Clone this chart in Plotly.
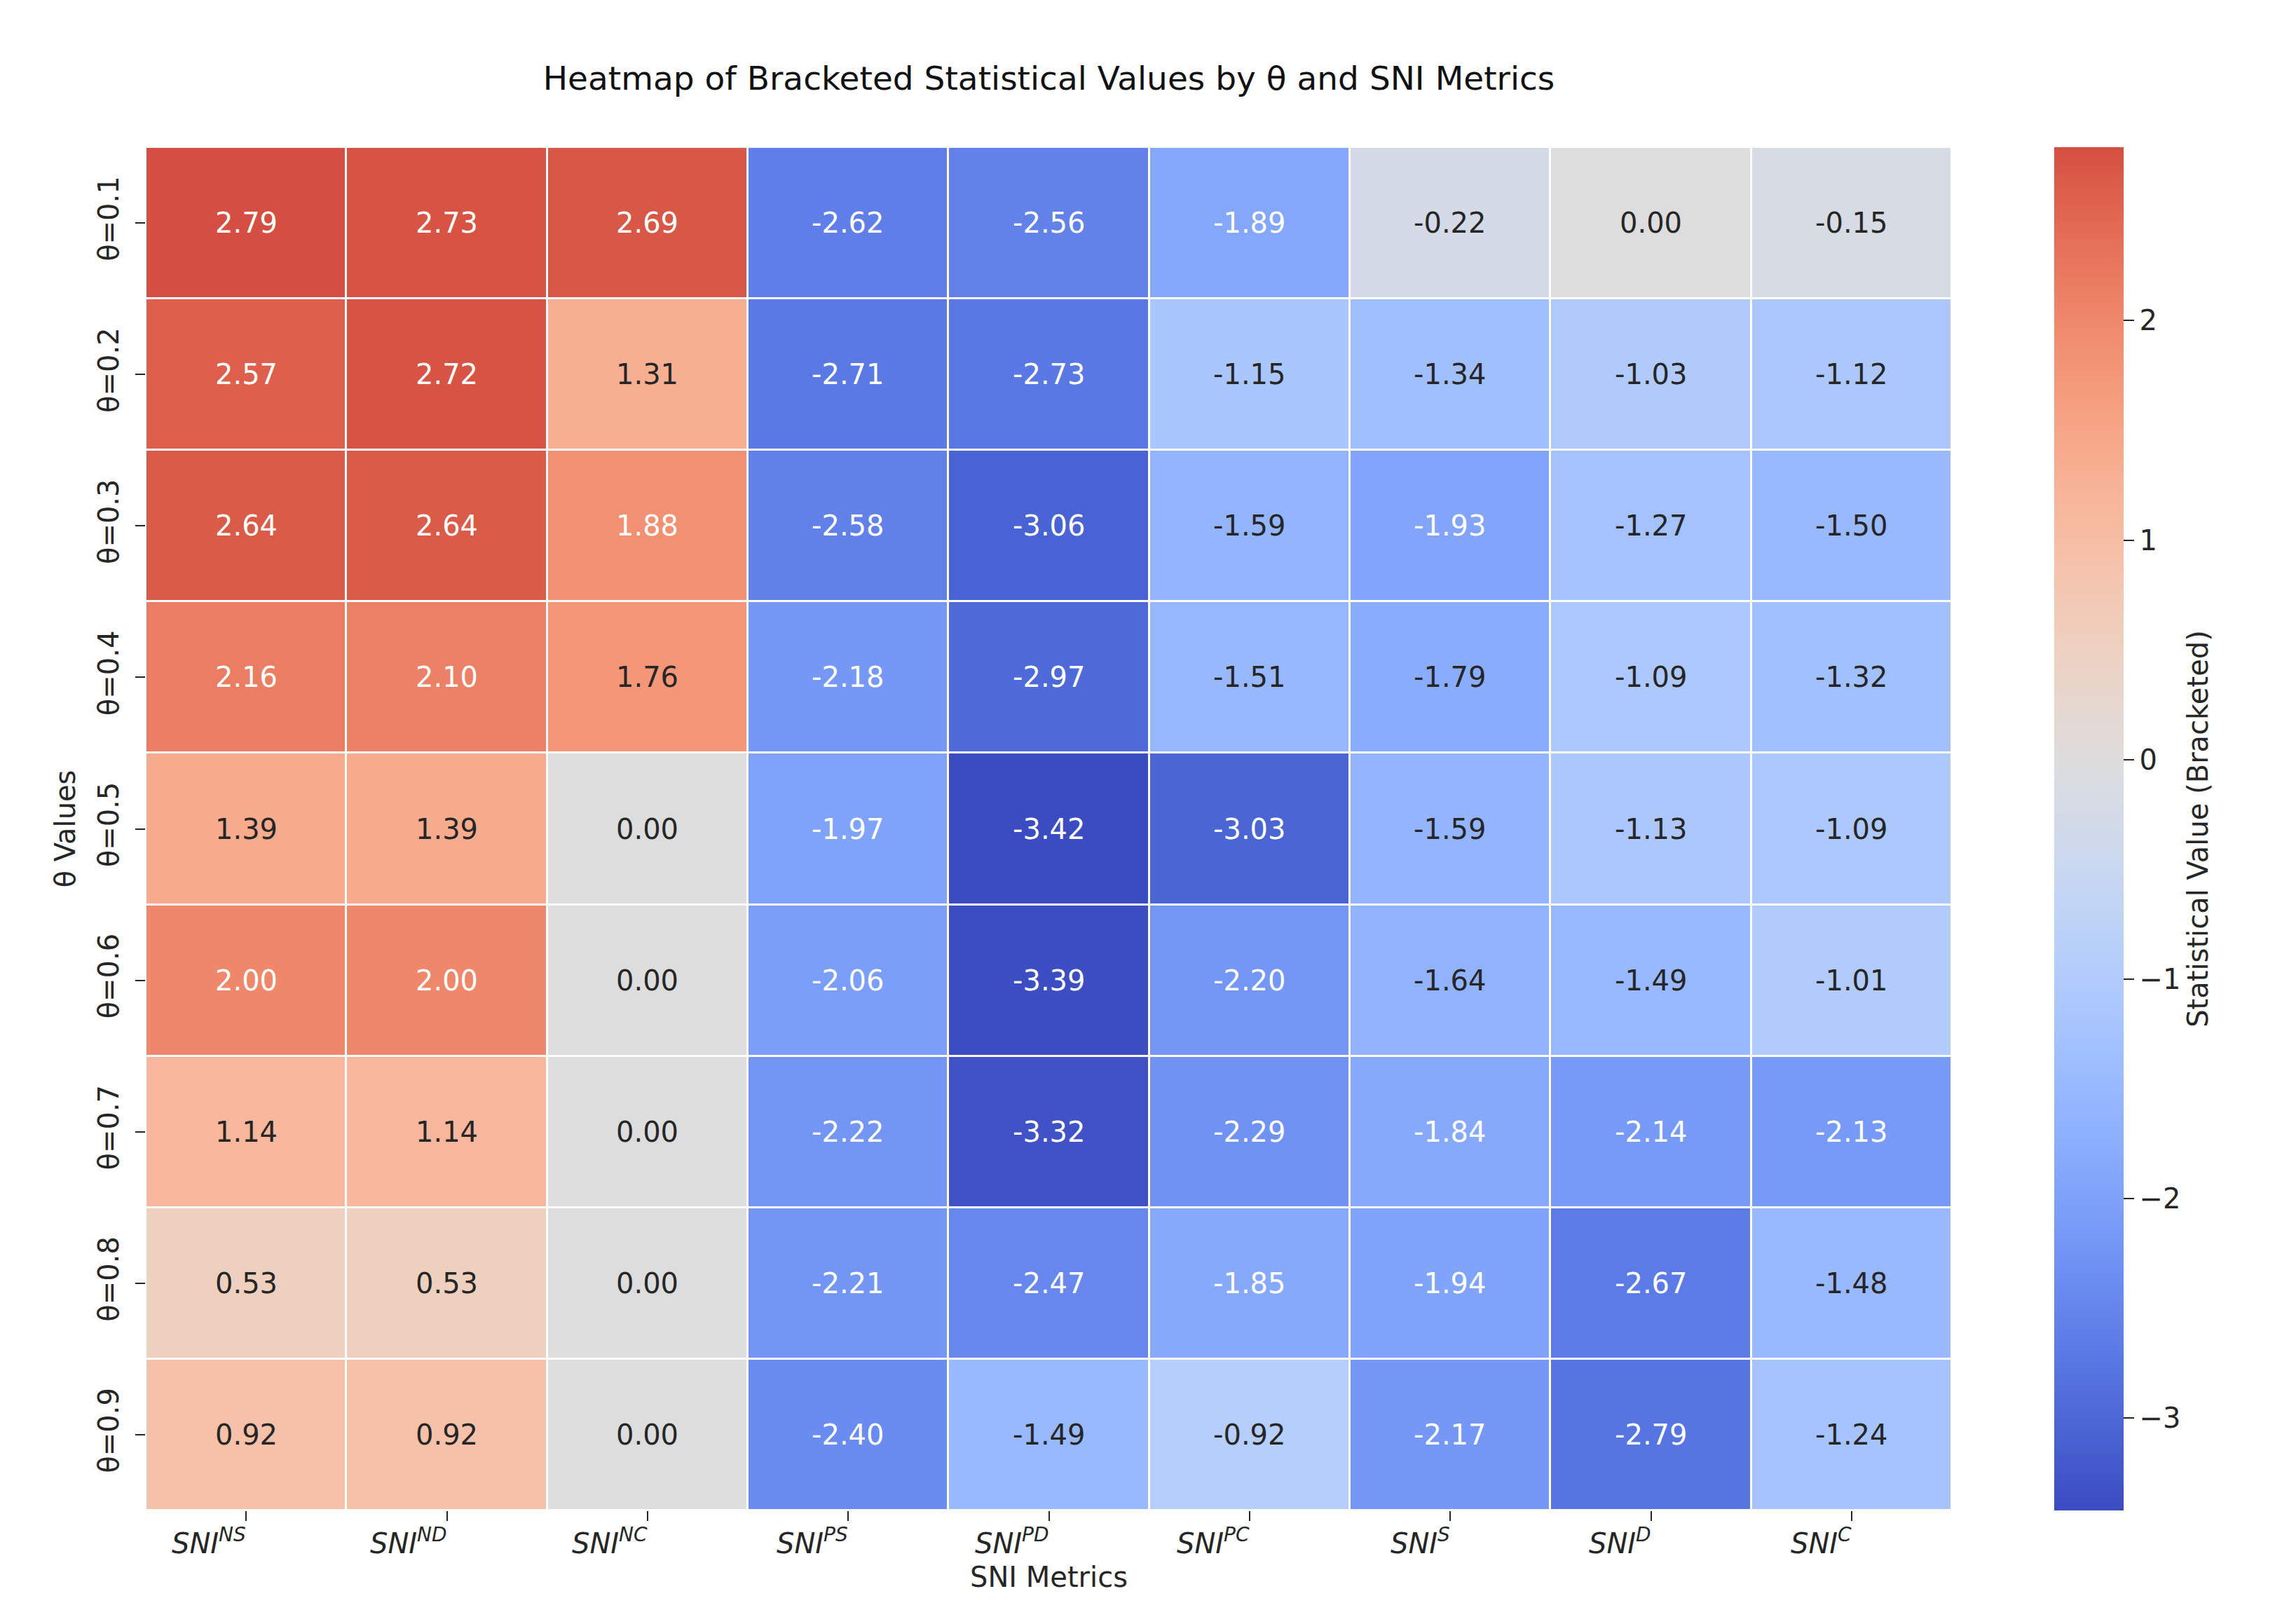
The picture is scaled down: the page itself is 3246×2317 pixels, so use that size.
import plotly.graph_objects as go
import numpy as np

# ---------------- data ----------------
theta_labels = ["θ=0.1", "θ=0.2", "θ=0.3", "θ=0.4", "θ=0.5", "θ=0.6", "θ=0.7", "θ=0.8", "θ=0.9"]
metric_labels = [
    "<i>SNI<sup>NS</sup></i>", "<i>SNI<sup>ND</sup></i>", "<i>SNI<sup>NC</sup></i>",
    "<i>SNI<sup>PS</sup></i>", "<i>SNI<sup>PD</sup></i>", "<i>SNI<sup>PC</sup></i>",
    "<i>SNI<sup>S</sup></i>", "<i>SNI<sup>D</sup></i>", "<i>SNI<sup>C</sup></i>",
]
row_01 = [2.79, 2.73, 2.69, -2.62, -2.56, -1.89, -0.22, 0.00, -0.15]
row_02 = [2.57, 2.72, 1.31, -2.71, -2.73, -1.15, -1.34, -1.03, -1.12]
row_03 = [2.64, 2.64, 1.88, -2.58, -3.06, -1.59, -1.93, -1.27, -1.50]
row_04 = [2.16, 2.10, 1.76, -2.18, -2.97, -1.51, -1.79, -1.09, -1.32]
row_05 = [1.39, 1.39, 0.00, -1.97, -3.42, -3.03, -1.59, -1.13, -1.09]
row_06 = [2.00, 2.00, 0.00, -2.06, -3.39, -2.20, -1.64, -1.49, -1.01]
row_07 = [1.14, 1.14, 0.00, -2.22, -3.32, -2.29, -1.84, -2.14, -2.13]
row_08 = [0.53, 0.53, 0.00, -2.21, -2.47, -1.85, -1.94, -2.67, -1.48]
row_09 = [0.92, 0.92, 0.00, -2.40, -1.49, -0.92, -2.17, -2.79, -1.24]
values = [row_01, row_02, row_03, row_04, row_05, row_06, row_07, row_08, row_09]
cbar_ticks = [-3, -2, -1, 0, 1, 2]

# ---------------- colormap (coolwarm, centred at 0) ----------------
cw = np.array([
    [59, 76, 192], [68, 90, 204], [77, 104, 215], [87, 117, 225], [98, 130, 234],
    [108, 142, 241], [119, 154, 247], [130, 165, 251], [141, 176, 254], [152, 185, 255],
    [163, 194, 255], [174, 201, 253], [184, 208, 249], [194, 213, 244], [204, 217, 238],
    [213, 219, 230], [221, 221, 221], [229, 216, 209], [236, 211, 197], [241, 204, 185],
    [245, 196, 173], [247, 187, 160], [247, 177, 148], [247, 166, 135], [244, 154, 123],
    [241, 141, 111], [236, 127, 99], [229, 112, 88], [222, 96, 77], [213, 80, 66],
    [203, 62, 56], [192, 40, 47], [180, 4, 38]], dtype=float)
cw_pos = np.linspace(0, 1, len(cw))


def coolwarm(s):
    return np.array([np.interp(s, cw_pos, cw[:, k]) for k in range(3)])


z = np.array(values)
zmin, zmax = z.min(), z.max()
vr = max(abs(zmin), abs(zmax))


def color_of(v):
    return coolwarm((v + vr) / (2 * vr))


colorscale = []
for p in np.linspace(0, 1, 41):
    v = zmin + p * (zmax - zmin)
    c = color_of(v)
    colorscale.append([float(p), "rgb(%d,%d,%d)" % tuple(np.round(c))])


def lum(c):
    c = c / 255.0
    c = np.where(c <= 0.03928, c / 12.92, ((c + 0.055) / 1.055) ** 2.4)
    return 0.2126 * c[0] + 0.7152 * c[1] + 0.0722 * c[2]


FONT = "DejaVu Sans"
TXT = "#262626"

fig = go.Figure(go.Heatmap(
    z=z, x=metric_labels, y=theta_labels,
    colorscale=colorscale, zmin=zmin, zmax=zmax,
    xgap=3, ygap=3, showscale=True,
    colorbar=dict(
        x=1.0567, xanchor="left", xref="paper", xpad=0, ypad=0,
        y=0.5, yanchor="middle", len=1.0, lenmode="fraction",
        thickness=99, outlinewidth=0,
        tickvals=cbar_ticks, ticks="outside", ticklen=15, tickwidth=2, tickcolor=TXT,
        tickfont=dict(family=FONT, size=40, color=TXT),
        title=dict(text="Statistical Value (Bracketed)", side="right",
                   font=dict(family=FONT, size=40, color=TXT)),
    ),
))

annotations = []
for i, t in enumerate(theta_labels):
    for j, m in enumerate(metric_labels):
        v = values[i][j]
        col = TXT if lum(color_of(v)) > 0.408 else "white"
        annotations.append(dict(x=m, y=t, text="%.2f" % v, showarrow=False,
                                font=dict(family=FONT, size=40, color=col)))

# x tick labels, right-aligned at their ticks (as in the reference)
for m in metric_labels:
    annotations.append(dict(x=m, y=0, yref="paper", yanchor="top", xanchor="right",
                            yshift=-16, xshift=2, text=m, showarrow=False,
                            font=dict(family=FONT, size=40, color=TXT)))

fig.update_layout(
    width=3246, height=2317,
    margin=dict(l=200, r=469, t=202, b=170, pad=0),
    paper_bgcolor="white", plot_bgcolor="white",
    title=dict(text="Heatmap of Bracketed Statistical Values by θ and SNI Metrics",
               x=(200 + 2777) / 2 / 3246, xanchor="center", y=1 - 104 / 2317, yanchor="middle",
               font=dict(family=FONT, size=47, color="#111")),
    annotations=annotations,
    xaxis=dict(title=dict(text="SNI Metrics", font=dict(family=FONT, size=40, color=TXT), standoff=66),
               ticks="outside", ticklen=14, tickwidth=2, tickcolor=TXT, showticklabels=False,
               showgrid=False, zeroline=False),
    yaxis=dict(title=dict(text="θ Values", font=dict(family=FONT, size=40, color=TXT), standoff=12),
               autorange="reversed", tickangle=-90, ticklabelstandoff=8,
               ticks="outside", ticklen=14, tickwidth=2, tickcolor=TXT,
               tickfont=dict(family=FONT, size=40, color=TXT), showgrid=False, zeroline=False),
)

fig.write_html("out.html")
